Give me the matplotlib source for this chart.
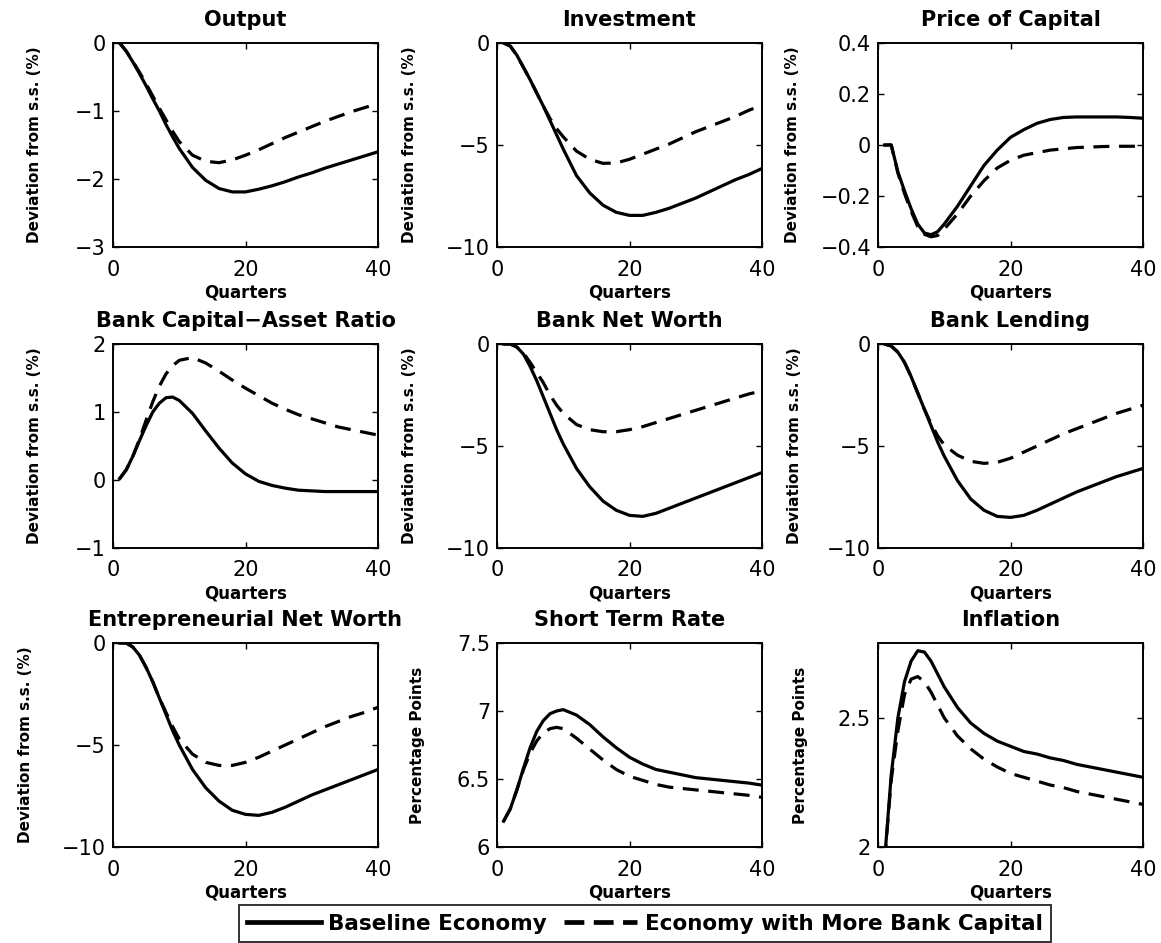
import matplotlib
matplotlib.use("Agg")
import matplotlib.pyplot as plt
from matplotlib.lines import Line2D

plt.rcParams["font.family"] = ["DejaVu Sans"]

q = [1, 2, 3, 4, 5, 6, 7, 8, 9, 10, 12, 14, 16, 18, 20, 22, 24, 26, 28, 30, 32, 34, 36, 38, 40]

output_base = [0, -0.12, -0.28, -0.45, -0.63, -0.82, -1.0, -1.2, -1.38, -1.55, -1.83, -2.02, -2.14, -2.19,
               -2.19, -2.15, -2.1, -2.04, -1.97, -1.91, -1.84, -1.78, -1.72, -1.66, -1.6]
output_more = [0, -0.12, -0.27, -0.43, -0.6, -0.78, -0.96, -1.13, -1.3, -1.45, -1.65, -1.74, -1.76, -1.72,
               -1.65, -1.57, -1.48, -1.39, -1.31, -1.23, -1.15, -1.08, -1.01, -0.95, -0.89]

inv_base = [0, -0.15, -0.6, -1.2, -1.8, -2.45, -3.1, -3.8, -4.5, -5.2, -6.5, -7.35, -7.95, -8.3,
            -8.45, -8.45, -8.3, -8.1, -7.85, -7.6, -7.3, -7.0, -6.7, -6.45, -6.15]
inv_more = [0, -0.15, -0.6, -1.2, -1.8, -2.45, -3.1, -3.7, -4.2, -4.6, -5.3, -5.7, -5.9, -5.88,
            -5.7, -5.45, -5.2, -4.95, -4.65, -4.35, -4.1, -3.85, -3.6, -3.3, -3.05]

pk_base = [0, 0, -0.105, -0.18, -0.25, -0.31, -0.345, -0.352, -0.34, -0.31, -0.24, -0.16, -0.08, -0.02,
           0.03, 0.06, 0.085, 0.1, 0.108, 0.11, 0.11, 0.11, 0.11, 0.108, 0.105]
pk_more = [0, 0, -0.11, -0.19, -0.26, -0.32, -0.35, -0.36, -0.355, -0.33, -0.27, -0.2, -0.14, -0.09,
           -0.06, -0.04, -0.03, -0.02, -0.015, -0.01, -0.008, -0.006, -0.005, -0.005, -0.005]

car_base = [0.02, 0.15, 0.35, 0.58, 0.8, 1.0, 1.13, 1.21, 1.22, 1.17, 0.98, 0.72, 0.47, 0.25,
            0.09, -0.02, -0.08, -0.12, -0.15, -0.16, -0.17, -0.17, -0.17, -0.17, -0.17]
car_more = [0.02, 0.15, 0.35, 0.6, 0.88, 1.15, 1.38, 1.56, 1.68, 1.76, 1.8, 1.72, 1.6, 1.47,
            1.35, 1.24, 1.13, 1.04, 0.96, 0.9, 0.84, 0.78, 0.74, 0.7, 0.66]

bnw_base = [0, 0, -0.15, -0.5, -1.1, -1.8, -2.6, -3.4, -4.2, -4.9, -6.1, -7.0, -7.7, -8.15,
            -8.4, -8.45, -8.3, -8.05, -7.8, -7.55, -7.3, -7.05, -6.8, -6.55, -6.3]
bnw_more = [0, 0, -0.15, -0.45, -0.9, -1.4, -1.9, -2.5, -3.0, -3.4, -3.95, -4.2, -4.3, -4.3,
            -4.2, -4.05, -3.85, -3.65, -3.45, -3.25, -3.05, -2.85, -2.65, -2.45, -2.3]

lend_base = [0, -0.1, -0.4, -0.9, -1.6, -2.4, -3.2, -4.0, -4.8, -5.5, -6.7, -7.6, -8.15, -8.45,
             -8.5, -8.4, -8.15, -7.85, -7.55, -7.25, -7.0, -6.75, -6.5, -6.3, -6.1]
lend_more = [0, -0.1, -0.4, -0.9, -1.6, -2.4, -3.2, -3.9, -4.5, -4.95, -5.45, -5.75, -5.85, -5.8,
             -5.6, -5.3, -5.0, -4.7, -4.4, -4.15, -3.9, -3.65, -3.4, -3.2, -3.0]

enw_base = [0, 0, -0.2, -0.6, -1.2, -1.9, -2.7, -3.5, -4.3, -5.0, -6.2, -7.1, -7.75, -8.2,
            -8.4, -8.45, -8.3, -8.05, -7.75, -7.45, -7.2, -6.95, -6.7, -6.45, -6.2]
enw_more = [0, 0, -0.2, -0.6, -1.2, -1.9, -2.7, -3.4, -4.1, -4.7, -5.45, -5.85, -6.0, -6.0,
            -5.85, -5.6, -5.3, -5.0, -4.7, -4.4, -4.1, -3.85, -3.6, -3.4, -3.15]

str_base = [6.19, 6.28, 6.42, 6.58, 6.73, 6.85, 6.93, 6.98, 7.0, 7.01, 6.97, 6.9, 6.81, 6.73,
            6.66, 6.61, 6.57, 6.55, 6.53, 6.51, 6.5, 6.49, 6.48, 6.47, 6.455]
str_more = [6.19, 6.28, 6.42, 6.57, 6.69, 6.78, 6.84, 6.87, 6.88, 6.87, 6.8, 6.72, 6.64, 6.57,
            6.52, 6.49, 6.46, 6.44, 6.43, 6.42, 6.41, 6.4, 6.39, 6.38, 6.365]

infl_base = [1.95, 2.28, 2.5, 2.64, 2.72, 2.76, 2.755, 2.72, 2.67, 2.62, 2.54, 2.48, 2.44, 2.41,
             2.39, 2.37, 2.36, 2.345, 2.335, 2.32, 2.31, 2.3, 2.29, 2.28, 2.27]
infl_more = [1.95, 2.26, 2.45, 2.59, 2.65, 2.66, 2.64, 2.6, 2.55, 2.5, 2.43, 2.38, 2.34, 2.31,
             2.285, 2.27, 2.255, 2.24, 2.23, 2.215, 2.205, 2.195, 2.185, 2.175, 2.165]

DEV = "Deviation from s.s. (%)"
PP = "Percentage Points"
panels = [
    ("Output", output_base, output_more, (-3, 0), [-3, -2, -1, 0], DEV),
    ("Investment", inv_base, inv_more, (-10, 0), [-10, -5, 0], DEV),
    ("Price of Capital", pk_base, pk_more, (-0.4, 0.4), [-0.4, -0.2, 0, 0.2, 0.4], DEV),
    ("Bank Capital\u2212Asset Ratio", car_base, car_more, (-1, 2), [-1, 0, 1, 2], DEV),
    ("Bank Net Worth", bnw_base, bnw_more, (-10, 0), [-10, -5, 0], DEV),
    ("Bank Lending", lend_base, lend_more, (-10, 0), [-10, -5, 0], DEV),
    ("Entrepreneurial Net Worth", enw_base, enw_more, (-10, 0), [-10, -5, 0], DEV),
    ("Short Term Rate", str_base, str_more, (6, 7.5), [6, 6.5, 7, 7.5], PP),
    ("Inflation", infl_base, infl_more, (2, 2.79), [2, 2.5], PP),
]

# layout (pixels) and y-label offsets (axes fraction)
W, H = 1161, 943
lefts = [113, 497, 878]
tops = [43, 344, 643]
aw, ah = 265, 204
ylab_x = [-0.268, -0.302, -0.294, -0.268, -0.30, -0.287, -0.302, -0.272, -0.264]

fig = plt.figure(figsize=(W / 100, H / 100), dpi=100)

for i, (title, base, more, ylim, yticks, ylab) in enumerate(panels):
    r, c = divmod(i, 3)
    ax = fig.add_axes([lefts[c] / W, 1 - (tops[r] + ah) / H, aw / W, ah / H])
    ax.plot(q, base, "-", color="black", lw=2.3)
    ax.plot(q, more, "--", color="black", lw=2.3, dashes=(5, 3))
    ax.set_xlim(0, 40)
    ax.set_ylim(*ylim)
    ax.set_xticks([0, 20, 40])
    ax.set_yticks(yticks)
    ax.set_yticklabels([f"{t:g}".replace("-", "\u2212") for t in yticks])
    ax.tick_params(direction="in", top=True, right=True, length=4, width=1, labelsize=15)
    ax.tick_params(axis="x", pad=9)
    ax.tick_params(axis="y", pad=5)
    for s in ax.spines.values():
        s.set_linewidth(1.4)
    ax.set_title(title, fontsize=15, fontweight="bold", pad=12)
    ax.set_xlabel("Quarters", fontsize=12, fontweight="bold", labelpad=3)
    ax.set_ylabel(ylab, fontsize=11, fontweight="bold")
    ax.yaxis.set_label_coords(ylab_x[i], 0.5)

handles = [Line2D([], [], color="black", lw=3.4, ls="-"),
           Line2D([], [], color="black", lw=3.4, ls="--", dashes=(4.2, 2.0))]
leg = fig.legend(handles, ["Baseline Economy", "Economy with More Bank Capital"],
                 loc="upper center", bbox_to_anchor=(645 / W, 1 - 905 / H), ncol=2,
                 prop={"size": 15.5, "weight": "bold"}, frameon=True, fancybox=False,
                 edgecolor="black", handlelength=3.4, columnspacing=0.8, handletextpad=0.35,
                 borderpad=0.4, borderaxespad=0)
leg.get_frame().set_linewidth(1.4)

fig.savefig("out.png", dpi=100)
